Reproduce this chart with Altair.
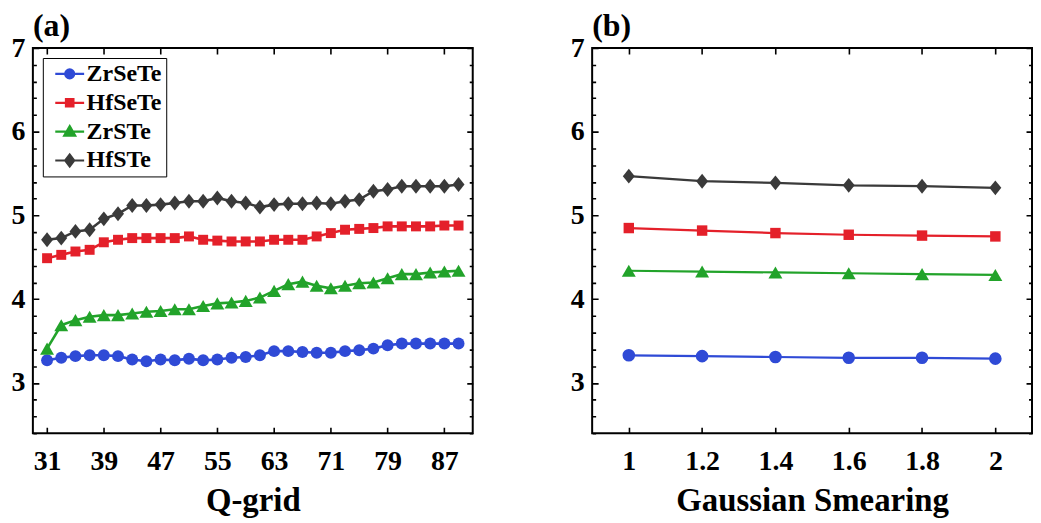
import altair as alt
import pandas as pd

FONT = "Liberation Serif"

SERIES = ["ZrSeTe", "HfSeTe", "ZrSTe", "HfSTe"]
COLORS = ["#2f4ad6", "#e4202a", "#22a32a", "#3a3a3a"]

# ---- panel (a): Q-grid convergence ----
Q_GRID = [31, 33, 35, 37, 39, 41, 43, 45, 47, 49, 51, 53, 55, 57, 59,
          61, 63, 65, 67, 69, 71, 73, 75, 77, 79, 81, 83, 85, 87, 89]
A_ZRSETE = [3.27, 3.30, 3.32, 3.33, 3.33, 3.32, 3.28, 3.26, 3.28, 3.27,
            3.29, 3.27, 3.28, 3.30, 3.31, 3.33, 3.38, 3.38, 3.37, 3.36,
            3.36, 3.38, 3.39, 3.41, 3.45, 3.47, 3.47, 3.47, 3.47, 3.47]
A_HFSETE = [4.49, 4.53, 4.57, 4.59, 4.68, 4.71, 4.73, 4.73, 4.73, 4.73,
            4.75, 4.71, 4.70, 4.69, 4.69, 4.69, 4.71, 4.71, 4.71, 4.75,
            4.79, 4.83, 4.84, 4.85, 4.87, 4.87, 4.87, 4.87, 4.88, 4.88]
A_ZRSTE = [3.41, 3.69, 3.75, 3.79, 3.81, 3.81, 3.83, 3.85, 3.86, 3.88,
           3.88, 3.92, 3.95, 3.96, 3.98, 4.02, 4.10, 4.18, 4.21, 4.16,
           4.13, 4.16, 4.19, 4.20, 4.25, 4.30, 4.30, 4.32, 4.33, 4.34]
A_HFSTE = [4.71, 4.73, 4.81, 4.83, 4.96, 5.02, 5.12, 5.12, 5.13, 5.15,
           5.17, 5.17, 5.21, 5.17, 5.15, 5.10, 5.13, 5.14, 5.14, 5.15,
           5.14, 5.17, 5.19, 5.29, 5.31, 5.35, 5.35, 5.35, 5.35, 5.37]

# ---- panel (b): Gaussian smearing convergence ----
SMEARING = [1.0, 1.2, 1.4, 1.6, 1.8, 2.0]
B_ZRSETE = [3.33, 3.32, 3.31, 3.30, 3.30, 3.29]
B_HFSETE = [4.85, 4.82, 4.79, 4.77, 4.76, 4.75]
B_ZRSTE = [4.34, 4.33, 4.32, 4.31, 4.30, 4.29]
B_HFSTE = [5.47, 5.41, 5.39, 5.36, 5.35, 5.33]

# ---- tick values ----
Y_MAJOR = [3, 4, 5, 6, 7]
Y_MINOR = [2.4, 2.6, 2.8, 3.2, 3.4, 3.6, 3.8, 4.2, 4.4, 4.6, 4.8,
           5.2, 5.4, 5.6, 5.8, 6.2, 6.4, 6.6, 6.8]
A_TICKS = [31, 39, 47, 55, 63, 71, 79, 87]
B_TICKS = [1, 1.2, 1.4, 1.6, 1.8, 2]

W, H = 442, 387
MAJOR_LEN, MINOR_LEN = 6, 3.5

DIAMOND = "M -0.8 0 L 0 -1 L 0.8 0 L 0 1 Z"
SHAPES = ["circle", "square", "triangle-up", DIAMOND]
LEGEND_PATHS = [
    "M -2.9 0 L 2.9 0 M 0.9 0 A 0.9 0.9 0 1 1 -0.9 0 A 0.9 0.9 0 1 1 0.9 0 Z",
    "M -2.9 0 L 2.9 0 M -0.75 -0.75 L 0.75 -0.75 L 0.75 0.75 L -0.75 0.75 Z",
    "M -2.9 0 L 2.9 0 M 0 -1.1 L 1.1 0.8 L -1.1 0.8 Z",
    "M -2.9 0 L 2.9 0 M -0.9 0 L 0 -1.2 L 0.9 0 L 0 1.2 Z",
]

GRID_STYLE = dict(grid=True, gridColor="black", gridOpacity=1, gridWidth=1.6)


def panel(xs, ys_list, domain, ticks, fmt, xtitle, label, sizes, line_w, legend):
    xscale = alt.Scale(domain=domain, nice=False, zero=False)
    yscale = alt.Scale(domain=[2.4, 7], nice=False, zero=False)
    # labelled axes; their grid lines are dashed so that only short inward
    # ticks remain at both opposite edges of the box
    x_lab = alt.Axis(orient="bottom", values=ticks, format=fmt, ticks=False,
                     tickSize=0, domain=False, labelPadding=15,
                     gridDash=[MAJOR_LEN, H - 2 * MAJOR_LEN], **GRID_STYLE,
                     labelFont=FONT, labelFontSize=28, labelFontWeight="bold",
                     labelColor="black", labelOverlap=False, title=xtitle,
                     titleFont=FONT, titleFontSize=33, titleFontWeight="bold",
                     titleColor="black", titlePadding=9)
    y_lab = alt.Axis(orient="left", values=Y_MAJOR, format="d", ticks=False,
                     tickSize=0, domain=False, labelPadding=8,
                     gridDash=[MAJOR_LEN, W - 2 * MAJOR_LEN], **GRID_STYLE,
                     labelFont=FONT, labelFontSize=28, labelFontWeight="bold",
                     labelColor="black", labelOverlap=False, title=None)
    y_minor = alt.Axis(orient="left", values=Y_MINOR, labels=False, ticks=False,
                       domain=False, gridDash=[MINOR_LEN, W - 2 * MINOR_LEN],
                       **GRID_STYLE, title=None)
    axis_specs = [(x_lab, y_lab), (None, y_minor)]
    layers = []
    k = 0
    for s, color, shape, size, vals in zip(SERIES, COLORS, SHAPES, sizes, ys_list):
        df = pd.DataFrame({"x": xs, "value": vals, "series": s})
        base = alt.Chart(df)
        for mk in ("line", "point"):
            ax, ay = axis_specs[k] if k < len(axis_specs) else (None, None)
            k += 1
            if mk == "line":
                m = base.mark_line(color=color, strokeWidth=line_w)
            else:
                m = base.mark_point(color=color, filled=True, opacity=1,
                                    shape=shape, size=size)
            layers.append(m.encode(
                x=alt.X("x:Q", scale=xscale, axis=ax),
                y=alt.Y("value:Q", scale=yscale, axis=ay),
            ))
    if legend:
        leg = alt.Legend(title=None, orient="top-left", offset=10,
                         strokeColor="black", fillColor="white", padding=4,
                         labelFont=FONT, labelFontSize=24, labelFontWeight="bold",
                         labelColor="black", symbolOffset=11, labelOffset=5,
                         rowPadding=5, symbolStrokeWidth=2.2)
        ldf = pd.DataFrame({"series": SERIES})
        layers.append(
            alt.Chart(ldf).transform_filter("false")
            .mark_point(filled=True, size=144, opacity=1, strokeWidth=2.2)
            .encode(
                fill=alt.Fill("series:N", scale=alt.Scale(domain=SERIES, range=COLORS), legend=leg),
                stroke=alt.Stroke("series:N", scale=alt.Scale(domain=SERIES, range=COLORS), legend=leg),
                shape=alt.Shape("series:N", scale=alt.Scale(domain=SERIES, range=LEGEND_PATHS), legend=leg),
            )
        )
    return alt.layer(*layers).resolve_axis(x="independent", y="independent").properties(
        width=W, height=H,
        title=alt.TitleParams(text=label, anchor="start", frame="group", font=FONT,
                              fontSize=32, fontWeight="bold", color="black", offset=-9),
    )


pa = panel(Q_GRID, [A_ZRSETE, A_HFSETE, A_ZRSTE, A_HFSTE], [29, 91], A_TICKS, "d",
           "Q-grid", "(a)", [144, 100, 196, 225], 2.6, True)
pb = panel(SMEARING, [B_ZRSETE, B_HFSETE, B_ZRSTE, B_HFSTE], [0.9, 2.1], B_TICKS, "~g",
           "Gaussian Smearing", "(b)", [160, 110, 196, 225], 2.2, False)

chart = (
    alt.hconcat(pa, pb, spacing=96)
    .configure_view(stroke="black", strokeWidth=2)
    .properties(padding={"left": 2, "top": 0, "right": 0, "bottom": 0},
                background="white")
)

chart.save("out.html", embed_options={"renderer": "svg", "actions": False})
